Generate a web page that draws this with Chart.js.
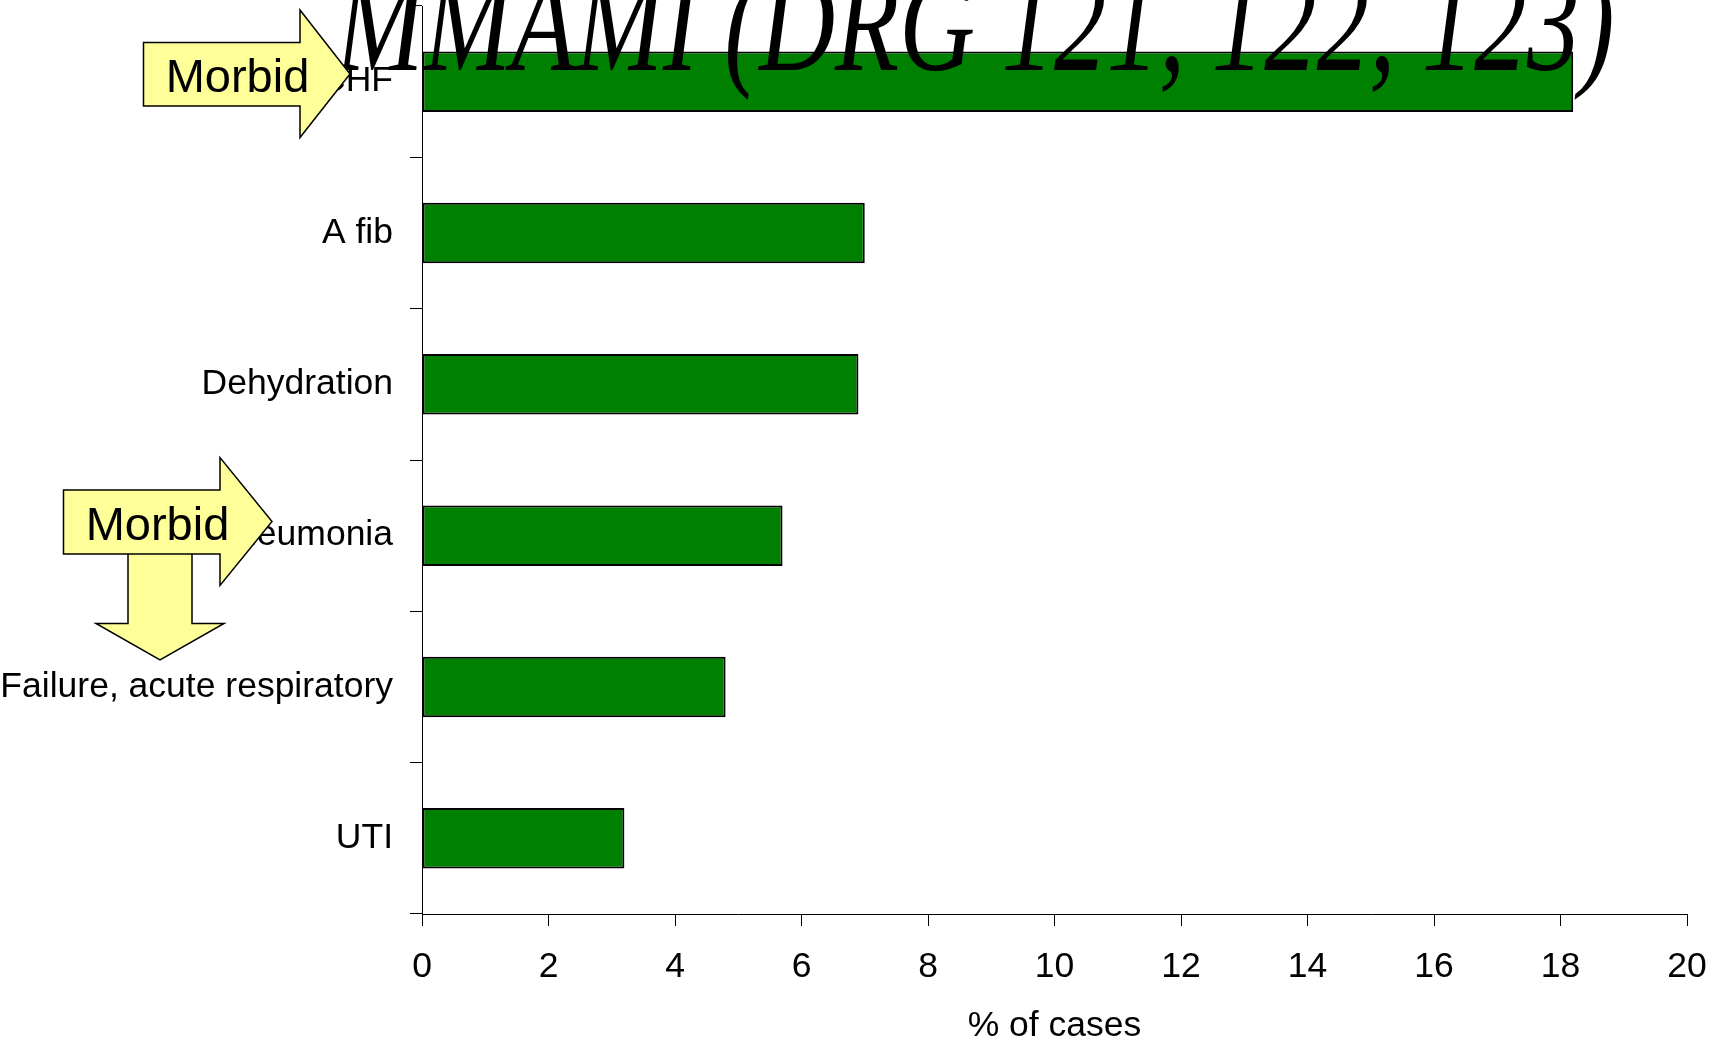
<!DOCTYPE html>
<html>
<head>
<meta charset="utf-8">
<script src="https://cdn.jsdelivr.net/npm/chart.js@4.4.1/dist/chart.umd.min.js"></script>
<style>
  html, body { margin: 0; padding: 0; background: #ffffff; }
  #wrap { width: 1719px; height: 1046px; position: relative; }
</style>
</head>
<body>
<div id="wrap"><canvas id="c" width="1719" height="1046"></canvas></div>
<script>
// ---- data ----
const categories = ['CHF', 'A fib', 'Dehydration', 'Pneumonia', 'Failure, acute respiratory', 'UTI'];
const percentOfCases = [18.2, 7.0, 6.9, 5.7, 4.8, 3.2];
const xMin = 0;
const xMax = 20;
const xStep = 2;
const xAxisTitle = '% of cases';
const chartTitle = 'MMAMI (DRG 121, 122, 123)';
const calloutText = 'Morbid';

const LABEL_FONT = 'Liberation Sans, Arial, sans-serif';

// Title drawn condensed/stretched like the original slide
const titlePlugin = {
  id: 'slideTitle',
  afterDraw(chart) {
    const ctx = chart.ctx;
    ctx.save();
    ctx.font = 'italic 100px "Liberation Serif", "Times New Roman", serif';
    const m = ctx.measureText(chartTitle);
    const visW = m.actualBoundingBoxLeft + m.actualBoundingBoxRight;
    const left = 334, right = 1612, baseline = 70;
    const sx = (right - left) / visW;
    const sy = 1.4;
    ctx.translate(left + m.actualBoundingBoxLeft * sx, baseline);
    ctx.scale(sx, sy);
    ctx.fillStyle = '#000';
    ctx.textBaseline = 'alphabetic';
    ctx.textAlign = 'left';
    ctx.fillText(chartTitle, 0, 0);
    ctx.restore();
  }
};

// Yellow callout arrows from the slide
const calloutPlugin = {
  id: 'callouts',
  afterDraw(chart) {
    const ctx = chart.ctx;
    const fill = '#FFFF99';
    function poly(pts) {
      ctx.beginPath();
      ctx.moveTo(pts[0][0], pts[0][1]);
      for (let i = 1; i < pts.length; i++) ctx.lineTo(pts[i][0], pts[i][1]);
      ctx.closePath();
      ctx.fillStyle = fill;
      ctx.fill();
      ctx.lineWidth = 1.5;
      ctx.strokeStyle = '#000';
      ctx.lineJoin = 'miter';
      ctx.stroke();
    }
    ctx.save();
    // arrow 1 (top, pointing right)
    poly([[143.5, 42.5], [300, 42.5], [300, 10], [350, 74], [300, 137.5], [300, 106], [143.5, 106]]);
    // arrow 2: down arrow first (behind), then right arrow
    poly([[128, 540], [192, 540], [192, 623.5], [224, 623.5], [160, 660], [96, 623.5], [128, 623.5]]);
    poly([[63.5, 490], [220, 490], [220, 457.5], [272, 521.5], [220, 585.5], [220, 554], [63.5, 554]]);
    ctx.fillStyle = '#000';
    ctx.font = '47px ' + LABEL_FONT;
    ctx.textAlign = 'center';
    ctx.textBaseline = 'alphabetic';
    ctx.fillText(calloutText, 237.5, 91.5);
    ctx.fillText(calloutText, 157.5, 540);
    ctx.restore();
  }
};

new Chart(document.getElementById('c'), {
  type: 'bar',
  data: {
    labels: categories,
    datasets: [{
      data: percentOfCases,
      backgroundColor: '#008000',
      borderColor: '#000000',
      borderWidth: 2,
      borderSkipped: false,
      categoryPercentage: 0.8,
      barPercentage: 0.5
    }]
  },
  options: {
    indexAxis: 'y',
    responsive: false,
    animation: false,
    devicePixelRatio: 1,
    layout: { padding: { top: 6, right: 32, left: 0, bottom: 0 } },
    plugins: {
      legend: { display: false },
      tooltip: { enabled: false },
      title: { display: false }
    },
    scales: {
      y: {
        type: 'category',
        grid: { offset: true, drawOnChartArea: false, tickLength: 12, color: '#000', lineWidth: 1 },
        border: { display: true, color: '#000', width: 1 },
        ticks: { color: '#000', font: { family: LABEL_FONT, size: 35.5 }, padding: 17 },
        afterFit: s => { s.width = 422; s.paddingTop = 0; s.paddingBottom = 0; }
      },
      x: {
        type: 'linear',
        min: xMin,
        max: xMax,
        grid: { drawOnChartArea: false, tickLength: 12, color: '#000', lineWidth: 1 },
        border: { display: true, color: '#000', width: 1 },
        ticks: { stepSize: xStep, color: '#000', font: { family: LABEL_FONT, size: 35.5 }, padding: 20, maxRotation: 0 },
        title: { display: true, text: xAxisTitle, color: '#000', font: { family: LABEL_FONT, size: 35.5, lineHeight: 1.1 }, padding: { top: 0, bottom: 0 } },
        afterFit: s => { s.height = 132; s.paddingLeft = 0; s.paddingRight = 0; }
      }
    }
  },
  plugins: [titlePlugin, calloutPlugin]
});
</script>
</body>
</html>
